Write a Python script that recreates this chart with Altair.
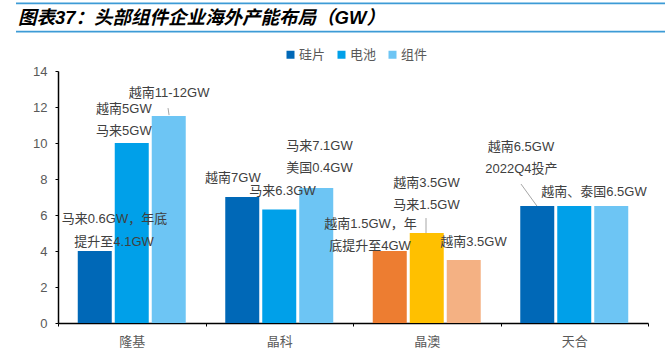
import altair as alt
import pandas as pd

# ---------------- data ----------------
companies = ["隆基", "晶科", "晶澳", "天合"]
series = ["硅片", "电池", "组件"]
wafer = [4.0, 7.0, 4.0, 6.5]
cell = [10.0, 6.3, 5.0, 6.5]
module = [11.5, 7.5, 3.5, 6.5]
y_ticks = [0, 2, 4, 6, 8, 10, 12, 14]

title_text = "图表37：头部组件企业海外产能布局（GW）"

# annotation texts, their company and anchor (fraction across company band, value)
label_text = [
    "马来0.6GW，年底", "提升至4.1GW", "越南5GW", "马来5GW", "越南11-12GW",
    "越南7GW", "马来6.3GW", "马来7.1GW", "美国0.4GW",
    "越南1.5GW，年", "底提升至4GW", "越南3.5GW", "马来1.5GW", "越南3.5GW",
    "越南6.5GW", "2022Q4投产", "越南、泰国6.5GW",
]
label_company = [
    "隆基", "隆基", "隆基", "隆基", "隆基",
    "晶科", "晶科", "晶科", "晶科",
    "晶澳", "晶澳", "晶澳", "晶澳", "晶澳",
    "天合", "天合", "天合",
]
label_frac = [
    0.383, 0.380, 0.447, 0.447, 0.753,
    0.186, 0.522, 0.773, 0.773,
    0.119, 0.115, 0.498, 0.498, 0.817,
    0.139, 0.142, 0.634,
]
label_val = [
    5.78, 4.50, 11.89, 10.67, 12.78,
    8.06, 7.33, 9.83, 8.61,
    5.50, 4.28, 7.78, 6.56, 4.50,
    9.78, 8.56, 7.28,
]

# leader lines
leader_company = ["隆基", "晶澳", "天合"]
leader_frac1 = [0.746, 0.495, 0.139]
leader_frac2 = [0.753, 0.495, 0.247]
leader_val1 = [11.94, 5.83, 7.72]
leader_val2 = [11.55, 5.00, 6.50]

# ---------------- tables ----------------
rows = []
for i, c in enumerate(companies):
    for s, vals in zip(series, [wafer, cell, module]):
        key = s if c != "晶澳" else "晶澳-" + s
        rows.append({"company": c, "series": s, "value": vals[i], "ckey": key})
bars_df = pd.DataFrame(rows)

lab_df = pd.DataFrame({
    "text": label_text,
    "lx": [companies.index(c) + f for c, f in zip(label_company, label_frac)],
    "ly": label_val,
})
lead_df = pd.DataFrame({
    "x1": [companies.index(c) + f for c, f in zip(leader_company, leader_frac1)],
    "x2": [companies.index(c) + f for c, f in zip(leader_company, leader_frac2)],
    "y1": leader_val1,
    "y2": leader_val2,
})

FONT = "Liberation Sans, Noto Sans CJK SC, sans-serif"
W, H = 590, 252

color_domain = ["硅片", "电池", "组件", "晶澳-硅片", "晶澳-电池", "晶澳-组件"]
color_range = ["#0068B7", "#00A0E9", "#6DC5F4", "#ED7D31", "#FFC000", "#F4B183"]

yscale = alt.Scale(domain=[0, 14], nice=False)
y_axis = alt.Axis(title=None, values=y_ticks, grid=False,
                  labelFont=FONT, labelFontSize=13, labelColor="#595959",
                  labelPadding=8, tickSize=3, tickColor="#000000",
                  domainColor="#000000", domainWidth=1.5)

bars = alt.Chart(bars_df).mark_bar().encode(
    x=alt.X("company:N", sort=companies,
            scale=alt.Scale(paddingInner=0, paddingOuter=0),
            axis=alt.Axis(title=None, labelAngle=0, tickBand="extent",
                          labelFont=FONT, labelFontSize=13, labelColor="#595959",
                          labelPadding=9, tickSize=3, tickColor="#000000",
                          domainColor="#000000", domainWidth=1.5)),
    xOffset=alt.XOffset("series:N", sort=series,
                        scale=alt.Scale(paddingInner=0.081, paddingOuter=0.534)),
    y=alt.Y("value:Q", scale=yscale, axis=y_axis),
    color=alt.Color("ckey:N",
                    scale=alt.Scale(domain=color_domain, range=color_range),
                    legend=alt.Legend(values=series, title=None, orient="none",
                                      direction="horizontal", legendX=226, legendY=-23,
                                      symbolType="square", symbolSize=64,
                                      symbolStrokeWidth=0, labelFont=FONT,
                                      labelFontSize=13, labelColor="#595959",
                                      columnPadding=9, labelOffset=2, padding=0)),
)

xq = alt.Scale(domain=[0, 4], nice=False, zero=False)

labels = alt.Chart(lab_df).mark_text(
    font=FONT, fontSize=13, color="#404040", align="center", baseline="middle"
).encode(
    x=alt.X("lx:Q", scale=xq, axis=None),
    y=alt.Y("ly:Q", scale=yscale, axis=y_axis),
    text="text:N",
)

leaders = alt.Chart(lead_df).mark_rule(color="#A6A6A6", strokeWidth=1).encode(
    x=alt.X("x1:Q", scale=xq, axis=None),
    x2="x2:Q",
    y=alt.Y("y1:Q", scale=yscale, axis=y_axis),
    y2="y2:Q",
)

title_mark = alt.Chart(alt.Data(values=[{"k": "title"}])).mark_text(
    text=title_text, font=FONT, fontSize=18.5, fontWeight="bold", fontStyle="italic",
    color="#000000", align="left", baseline="alphabetic"
).encode(x=alt.value(-40), y=alt.value(-47))

line_top = alt.Chart(alt.Data(values=[{"k": "top"}])).mark_rect(color="#3D9BD6").encode(
    x=alt.value(-42), x2=alt.value(607), y=alt.value(-68.5), y2=alt.value(-66.8))
line_bot = alt.Chart(alt.Data(values=[{"k": "bottom"}])).mark_rect(color="#3D9BD6").encode(
    x=alt.value(-42), x2=alt.value(607), y=alt.value(-40.3), y2=alt.value(-38.6))

chart = alt.layer(line_top, line_bot, bars, leaders, labels, title_mark).resolve_scale(
    x="independent"
).properties(
    width=W, height=H,
    autosize=alt.AutoSizeParams(type="none"),
    padding={"left": 58, "top": 71, "right": 17, "bottom": 29},
    background="#FFFFFF",
).configure_view(stroke=None)

chart.save("out.html", embed_options={"renderer": "svg", "actions": False})
